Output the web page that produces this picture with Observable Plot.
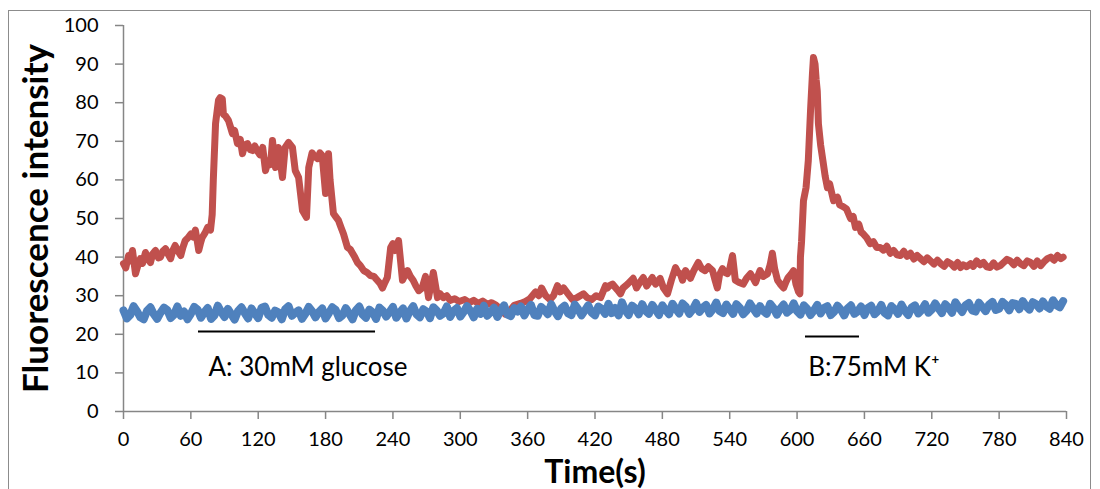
<!DOCTYPE html>
<html><head><meta charset="utf-8">
<script src="https://cdn.jsdelivr.net/npm/d3@7"></script>
<script src="https://cdn.jsdelivr.net/npm/@observablehq/plot@0.6"></script>
<style>
html,body{margin:0;padding:0;background:#fff;}
#wrap{position:relative;width:1100px;height:489px;overflow:hidden;}
#frame{position:absolute;left:8px;top:10px;width:1083px;height:490px;border:1px solid #8c8c8c;box-sizing:border-box;}
#chart{position:absolute;left:0;top:0;}
g[aria-label="y-axis label"] text{font-weight:bold;font-size:35px;}
g[aria-label="x-axis label"] text{font-weight:bold;font-size:32px;}
</style></head>
<body><div id="wrap"><div id="frame"></div><div id="chart"></div></div>
<script>
const xTicks = [0,60,120,180,240,300,360,420,480,540,600,660,720,780,840];
const yTicks = [0,10,20,30,40,50,60,70,80,90,100];
const xTitle = "Time(s)";
const yTitle = "Fluorescence intensity";

const redTime = [0,2,4.5,6,8,10.7,13,15,17,19.6,22,24,26,28.5,31,33,35,37.4,40,42,44,46,48.5,51,53,55,57.5,60,62,64,65.5,67,68.5,70,72.5,75,77.5,79,80,82,84.6,86,88,89,91,93.5,95,97,99,101.5,104,106,108,110.5,113,115,117,119,121.5,124,126.5,129,131,132.7,135.4,138,141.6,144,147,150.5,153,156,159.5,163,165,168,170,173,175,177,180,182.6,184,187,189,191.5,194,196,198,199.5,202,204,206,208.4,211,214,217,220,223,226,228.5,230.7,233,235,238,240,242,245,248.5,251,253,255.5,258,260.5,263,266,269,271.7,274,276,279.7,282,285,288,291,295,299,304,308,312,316,320,324,328,332,336,340,344,348,353.6,358,362,367,370,372.4,376,380,383,386.6,389,392,396,400,404,409.8,413,417,421,425,429.4,431,433,435.6,440,442.7,445,449,454,457,460,463,466,469,471,474,478,481,484.6,488,491.7,494,496,498,500.6,503,505,508,512,515,518,521,524.7,527,529,531,533.6,536,538,540,542.5,545,548,552,555,558.5,561,563,565,567,570,573.7,576,578,580,582.6,585,588,590,592,594.5,596.8,599,601.3,602.5,603,604,605.7,608,610,612,613.7,614.6,616,617,618,619,621,623,625,627,629,632.5,636,638,641.4,644,647.6,650,652,655,657,659,662,665,668,671,674,677,680,683,686,689,692,695,698,701,704,707,710,713,716,719,722,725,728,731,734,737,740,743,745.6,748,751,754.5,757,760,763,766,769,772,775,778,781,784,787,790,793,796,799,802,805,808,811,814,817,820,823,826,829,832,835,837];
const redValue = [38.3,37.2,40.4,39.0,41.7,35.7,38.0,39.6,38.4,41.2,39.5,38.6,40.8,41.7,39.8,40.0,41.5,42.2,40.6,39.6,41.8,43.0,41.6,40.4,42.6,44.3,45.0,46.0,45.2,47.0,44.5,41.7,43.5,45.0,46.2,47.7,47.0,51,60,74.6,80.6,81.3,81,77,76.5,75.4,74,72,72.8,69.4,70.5,66.8,69.0,69.4,67.8,67.6,68.8,67.6,66.5,68.4,62.4,65,64.0,70.2,63.2,68.4,60.6,68.4,69.7,68.4,62.4,60.6,52,50.3,63.2,67,66.2,65.5,67.0,66.3,56.5,66.8,60,51.3,50.5,49.5,47.5,46,44.0,42.5,42.0,41,40.0,38.6,37.8,36.5,36.0,35.2,35.0,34,33.2,32,33.5,34.7,42.5,43.5,41.7,44.3,34,35.5,36.5,35.0,34,32.5,31.3,32.0,35.0,29.5,33.0,36.0,29.5,30.5,29.5,30.0,28.8,29.2,28.5,29.0,28.2,28.8,28.0,28.6,27.8,28.2,27.5,26.5,25.2,26.0,27.5,28.0,28.5,29.2,31.0,30.0,32,30.0,29.0,30.0,32.6,31.0,32,30.5,29.0,29.5,30.5,29.5,29.0,30.0,29.5,32.6,32,32.6,33,31.5,30.5,32,33.0,34.5,32.0,33.5,34.7,32.5,33.8,34.7,33.0,34.5,32.0,30.5,34.0,37.3,36.0,35.7,34.0,36.5,35.5,34.5,36.5,38.6,37.0,36.5,37.5,36.5,34.0,32,35.5,37,36.0,35.7,37.0,40.4,34,33.5,33,34.5,35.7,34.5,33.4,35.0,36.5,35.0,35.7,38.0,41,37.0,34,33.0,32,33.5,34.7,35.5,36.5,33.0,31.0,30.5,40,44,54.6,58,65,78,87.5,91.7,90,86,83,74.6,69,65,61,58,59,54.6,55.5,53.5,53,52.5,50,50.5,47.7,48.5,46.5,46,45,43.5,44.0,42.5,42.5,41.8,42.8,41.0,41.7,40.6,40.4,41.5,40.2,41,39.5,40.4,39.6,38.8,39.8,39,38.2,39.2,38.3,37.6,38.8,38.3,37.4,38.6,37.3,38.0,37.5,38.3,37.6,39.0,38.0,38.6,37.5,37.3,38.5,37.4,37.8,38.6,39.4,39,38.0,39.2,38.3,37.8,39.0,38.6,37.6,39.0,37.8,38.8,39.6,40,39.2,40.4,39.6,40.0];

const blueStep = 3;
const blueValue = [
26.2,24.1,25.0,27.3,26.0,24.4,23.9,26.1,27.0,25.2,24.0,25.6,26.9,26.3,24.2,25.1,27.2,24.8,25.9,23.9,
25.3,27.1,26.4,24.3,25.7,26.8,24.0,24.9,27.4,25.8,24.5,26.6,25.2,23.8,26.0,27.0,25.5,24.1,26.7,25.4,
24.2,26.9,27.2,25.0,24.3,26.1,25.7,23.9,26.5,27.3,24.8,25.6,26.2,24.0,25.3,27.1,26.0,24.4,25.8,26.7,
24.1,25.5,27.0,26.3,24.2,24.9,26.8,25.4,23.9,26.2,27.2,25.1,24.3,26.4,25.7,24.0,26.9,26.1,24.6,25.8,
27.1,24.3,25.6,26.7,24.1,26.0,27.3,25.2,24.4,26.5,25.9,24.2,27.0,26.2,24.8,25.4,27.2,24.5,26.1,26.8,
24.6,25.8,27.3,26.1,24.4,26.6,25.3,27.4,24.8,25.7,26.9,24.5,26.2,27.5,25.1,24.7,26.8,25.9,27.2,24.9,
26.4,27.6,25.0,24.8,27.1,26.3,25.2,27.8,26.0,24.7,26.7,27.4,25.4,25.0,27.7,26.5,24.9,26.2,27.5,25.6,
24.9,27.2,26.6,25.3,27.9,25.5,26.8,24.9,28.3,26.2,25.0,27.4,26.7,25.2,27.8,26.1,25.3,27.6,26.4,25.0,
27.5,26.3,25.2,27.9,26.6,25.4,28.0,27.1,25.3,26.4,28.1,25.8,26.9,27.6,25.4,26.5,28.2,26.0,25.5,27.7,
26.5,25.3,27.8,26.9,25.2,26.1,28.0,26.7,25.4,27.3,26.0,25.3,27.9,26.8,25.1,26.6,27.7,25.6,26.3,28.0,
26.0,25.1,27.5,26.6,25.0,26.2,27.6,25.4,26.8,27.3,25.0,25.8,27.4,26.4,24.9,26.7,27.5,25.3,25.9,27.2,
25.0,26.8,27.4,25.2,26.0,27.6,25.5,24.9,27.3,26.5,25.3,27.7,26.1,25.0,26.9,27.5,25.4,26.3,27.8,25.6,
26.4,28.0,26.7,25.5,27.8,26.9,25.6,28.3,27.0,25.8,27.5,28.1,26.2,25.9,28.2,27.1,26.0,27.7,28.4,26.3,
26.6,28.4,27.6,26.2,28.1,27.9,26.5,28.6,27.3,26.4,28.3,27.8,26.7,28.5,27.2,26.6,28.8,27.5,27.0,28.6];

const annLabel = ["A: 30mM glucose", "B:75mM K\u207A"];
const annBarStart = [66.8, 607.5];
const annBarEnd = [224.5, 655.6];
const annBarLevel = [20.7, 19.4];
const annTextTime = [75.7, 610];
const annTextLevel = [11.4, 11.4];

const red = redTime.map((t, i) => ({t, v: redValue[i]}));
const blue = blueValue.map((v, i) => ({t: i * blueStep, v}));
const ann = annLabel.map((label, i) => ({label, x1: annBarStart[i], x2: annBarEnd[i], y: annBarLevel[i], tx: annTextTime[i], ty: annTextLevel[i]}));

const axisColor = "#868686";
const chart = Plot.plot({
  width: 1100, height: 489,
  marginLeft: 123, marginRight: 34, marginTop: 25, marginBottom: 78,
  style: {fontFamily: "Lato, 'Open Sans', sans-serif", fontSize: "20px", color: "#000", background: "transparent", overflow: "visible"},
  x: {domain: [0, 840]},
  y: {domain: [0, 100]},
  marks: [
    Plot.ruleX([0], {stroke: axisColor, strokeWidth: 1.5}),
    Plot.ruleY([0], {stroke: axisColor, strokeWidth: 1.5}),
    Plot.axisY({ticks: yTicks, tickSize: 8, tickPadding: 17, stroke: axisColor, strokeWidth: 1.5, fill: "#000",
      label: yTitle, labelAnchor: "center", labelArrow: "none", labelOffset: 100}),
    Plot.axisX({ticks: xTicks, tickSize: 8, tickPadding: 12, stroke: axisColor, strokeWidth: 1.5, fill: "#000",
      label: xTitle, labelAnchor: "center", labelArrow: "none", labelOffset: 71}),
    Plot.line(red, {x: "t", y: "v", stroke: "#C0504D", strokeWidth: 7, strokeLinejoin: "round", strokeLinecap: "round"}),
    Plot.line(blue, {x: "t", y: "v", stroke: "#4F81BD", strokeWidth: 8, strokeLinejoin: "round", strokeLinecap: "round"}),
    Plot.ruleY(ann, {x1: "x1", x2: "x2", y: "y", stroke: "#000", strokeWidth: 2}),
    Plot.text(ann, {x: "tx", y: "ty", text: "label", textAnchor: "start", fontSize: 26, fill: "#000"})
  ]
});
document.getElementById("chart").appendChild(chart);
</script></body></html>
